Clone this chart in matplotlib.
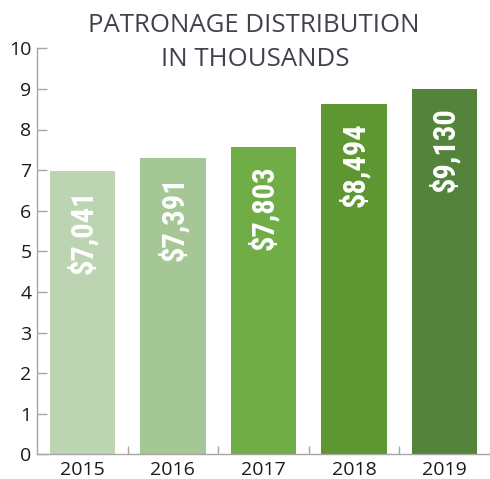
import matplotlib
matplotlib.use("Agg")
import matplotlib.pyplot as plt
from matplotlib.ticker import FixedLocator

years = ["2015", "2016", "2017", "2018", "2019"]
heights = [6.97, 7.30, 7.58, 8.62, 9.00]
labels = ["$7,041", "$7,391", "$7,803", "$8,494", "$9,130"]
colors = ["#BDD4B2", "#A5C695", "#70AD47", "#5E9632", "#54833B"]
yticks = list(range(0, 11))

LABEL_FONT = ["Roboto Condensed", "Fjalla One", "Oswald", "DejaVu Sans"]
TEXT_FONT = ["Open Sans", "DejaVu Sans"]

fig = plt.figure(figsize=(4.90, 4.79), dpi=100)
ax = fig.add_axes([37/490, 1-454.3/479, (490-37)/490, (454.3-48.3)/479])

x = list(range(len(years)))
ax.bar(x, heights, width=0.72, color=colors, zorder=2)
ax.set_xlim(-0.5, 4.5)
ax.set_ylim(0, 10)

for xi, h, lab in zip(x, heights, labels):
    ax.text(xi, h - 0.45, lab, rotation=90, ha="center", va="top",
            color="white", fontsize=22, fontweight="bold",
            family=LABEL_FONT, zorder=3)

for s in ["top", "right"]:
    ax.spines[s].set_visible(False)
for s in ["left", "bottom"]:
    ax.spines[s].set_color("#A6A6A6")
    ax.spines[s].set_linewidth(1.0)

ax.set_yticks(yticks)
ax.set_yticklabels([str(t) for t in yticks])
ax.set_xticks(x)
ax.set_xticklabels(years)
ax.xaxis.set_minor_locator(FixedLocator([0.5, 1.5, 2.5, 3.5]))
ax.tick_params(axis="y", direction="in", length=7, width=1, color="#A6A6A6",
               pad=4, labelsize=14, labelcolor="#1A1A1A")
ax.tick_params(axis="x", which="major", length=0, pad=4.5, labelsize=14,
               labelcolor="#1A1A1A")
ax.tick_params(axis="x", which="minor", direction="in", length=6, width=1,
               color="#A6A6A6")
for lab in ax.get_xticklabels() + ax.get_yticklabels():
    lab.set_family(TEXT_FONT)

fig.text(254/490, 1-32/479, "PATRONAGE DISTRIBUTION", ha="center", va="baseline",
         fontsize=18.5, color="#40434D", family=TEXT_FONT)
fig.text(255/490, 1-65.5/479, "IN THOUSANDS", ha="center", va="baseline",
         fontsize=18.5, color="#40434D", family=TEXT_FONT)

fig.savefig("out.png", dpi=100)
